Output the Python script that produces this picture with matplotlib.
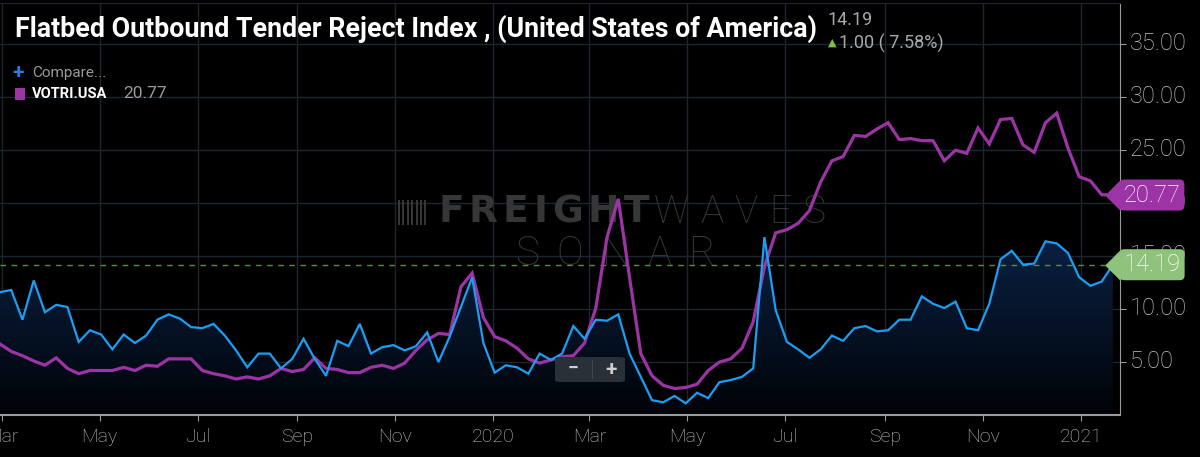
import numpy as np
import pandas as pd
import matplotlib
matplotlib.use('Agg')
import matplotlib.pyplot as plt
import matplotlib.dates as mdates
import matplotlib.transforms as mtransforms
from matplotlib.colors import LinearSegmentedColormap
from matplotlib.patches import FancyBboxPatch, Rectangle

# weekly values, first week 2019-02-28
start_date = '2019-02-28'
flatbed = [11.6, 11.8, 9.0, 12.7, 9.7, 10.4, 10.2, 6.9, 8.0, 7.6,
           6.2, 7.6, 6.8, 7.5, 9.0, 9.5, 9.1, 8.3, 8.2, 8.6,
           7.5, 6.1, 4.5, 5.8, 5.8, 4.4, 5.3, 7.2, 5.3, 3.7,
           7.0, 6.5, 8.6, 5.8, 6.4, 6.6, 6.1, 6.5, 7.8, 5.0,
           7.4, 10.2, 13.0, 6.8, 4.0, 4.7, 4.5, 3.9, 5.8, 5.2,
           5.8, 8.4, 7.2, 9.0, 8.9, 9.5, 5.8, 3.6, 1.4, 1.2,
           1.8, 1.1, 2.1, 1.6, 3.1, 3.3, 3.6, 4.4, 16.8, 9.9,
           6.9, 6.2, 5.4, 6.2, 7.5, 7.0, 8.2, 8.4, 7.9, 8.0,
           9.0, 9.0, 11.2, 10.5, 10.1, 10.7, 8.2, 8.0, 10.5, 14.7,
           15.5, 14.2, 14.3, 16.4, 16.2, 15.3, 13.0, 12.2, 12.6, 14.19]
van = [6.7, 6.0, 5.6, 5.1, 4.7, 5.4, 4.4, 3.9, 4.2, 4.2,
       4.2, 4.5, 4.2, 4.7, 4.6, 5.3, 5.3, 5.3, 4.2, 3.9,
       3.7, 3.4, 3.6, 3.4, 3.7, 4.4, 4.1, 4.3, 5.4, 4.4,
       4.3, 4.0, 4.0, 4.5, 4.7, 4.4, 4.9, 6.1, 7.1, 7.7,
       7.6, 12.1, 13.4, 9.2, 7.4, 7.0, 6.3, 5.3, 4.9, 5.2,
       5.5, 5.6, 6.8, 10.1, 16.8, 20.4, 13.0, 5.8, 3.7, 2.8,
       2.5, 2.6, 2.9, 4.2, 5.0, 5.3, 6.3, 8.8, 14.0, 17.2,
       17.5, 18.1, 19.3, 22.0, 24.0, 24.4, 26.4, 26.3, 27.0, 27.6,
       26.0, 26.1, 25.9, 25.9, 24.0, 25.0, 24.7, 27.1, 25.6, 27.9,
       28.0, 25.5, 24.8, 27.6, 28.5, 25.2, 22.5, 22.1, 20.8, 20.77]

tick_dates = ['2019-03-01', '2019-05-01', '2019-07-01', '2019-09-01', '2019-11-01', '2020-01-01',
              '2020-03-01', '2020-05-01', '2020-07-01', '2020-09-01', '2020-11-01', '2021-01-01']
tick_labels = ['Mar', 'May', 'Jul', 'Sep', 'Nov', '2020', 'Mar', 'May', 'Jul', 'Sep', 'Nov', '2021']
y_ticks = [5, 10, 15, 20, 25, 30, 35]

title = 'Flatbed Outbound Tender Reject Index , (United States of America)'
last_flatbed = 14.19
last_van = 20.77
change_text = '1.00 ( 7.58%)'
van_name = 'VOTRI.USA'

BLUE = '#1a9ff5'
PURPLE = '#9c34a6'
GREEN = '#8fc27a'
GRID = '#1b2631'
LABEL = '#c4c4c4'
MARK = '#363636'

plt.rcParams['font.family'] = ['Roboto', 'DejaVu Sans']

W, H = 1200, 457
fig = plt.figure(figsize=(W / 100, H / 100), dpi=100, facecolor='black')
ax = fig.add_axes([0, 42 / H, 1120 / W, 412 / H], facecolor='black')


def fx(px):
    return px / W


def fy(py):
    return 1 - py / H


def spread(s, left, right, yc, **kw):
    # place letters one by one so the word fills left..right (pixels)
    texts = [ax.text(0, 0, ch, transform=fig.transFigure, va='center', ha='left', **kw) for ch in s]
    renderer = fig.canvas.get_renderer()
    widths = [tx.get_window_extent(renderer).width for tx in texts]
    gap = (right - left - sum(widths)) / max(len(s) - 1, 1)
    pos = left
    for tx, w in zip(texts, widths):
        tx.set_position((fx(pos), fy(yc)))
        pos += w + gap


dates = pd.date_range(start_date, periods=len(flatbed), freq='7D')
x = mdates.date2num(dates)
x0 = mdates.date2num(pd.Timestamp(start_date))
x1 = x0 + 697.4

# gradient area under flatbed line
fill = ax.fill_between(x, flatbed, 0, color='none', lw=0)
grad = np.linspace(0, 1, 256).reshape(-1, 1)
cmap = LinearSegmentedColormap.from_list('fade', ['#010307', '#0a2143'])
im = ax.imshow(grad, extent=[x[0], x[-1], 0, max(flatbed)], origin='lower',
               aspect='auto', cmap=cmap, zorder=1)
im.set_clip_path(fill.get_paths()[0], transform=ax.transData)

ax.plot(x, van, color=PURPLE, lw=2.3, zorder=4, solid_joinstyle='miter')
ax.plot(x, flatbed, color=BLUE, lw=1.6, zorder=5, solid_joinstyle='miter')
ax.axhline(last_flatbed, color='#5e8a46', lw=1, ls=(0, (4, 4)), zorder=3)

ax.set_xlim(x0, x1)
ax.set_ylim(0, 38.9)

# axes style
ax.set_xticks(mdates.date2num(pd.to_datetime(tick_dates)))
ax.set_xticklabels(tick_labels)
ax.yaxis.tick_right()
ax.set_yticks(y_ticks)
ax.set_yticklabels([f'{v:.2f}' for v in y_ticks])
ax.tick_params(axis='x', colors='#9a9a9a', labelcolor=LABEL, labelsize=14, length=4, pad=5)
ax.tick_params(axis='y', colors='#9a9a9a', labelcolor=LABEL, labelsize=17, length=4, pad=3)
lift = mtransforms.ScaledTranslation(0, 2.5 / 72, fig.dpi_scale_trans)
for lab in ax.get_yticklabels():
    lab.set_fontweight('light')
    lab.set_transform(lab.get_transform() + lift)
for lab in ax.get_xticklabels():
    lab.set_fontweight('light')
ax.grid(True, color=GRID, lw=1)
ax.set_axisbelow(True)
ax.spines['left'].set_visible(False)
ax.spines['top'].set_color(GRID)
ax.spines['right'].set_color('#9a9a9a')
ax.spines['bottom'].set_color('#9a9a9a')
ax.spines['bottom'].set_linewidth(1.5)

# value flags on the right axis
trans = mtransforms.blended_transform_factory(ax.transAxes, ax.transData)
flag_marker = [(-1, 0), (0, 1), (0, -1)]
for val, col in [(last_van, PURPLE), (last_flatbed, GREEN)]:
    ax.plot([1.0], [val], marker=flag_marker, ms=22, color=col, mec='none',
            transform=trans, clip_on=False, zorder=10)
    ax.annotate(f'{val:.2f}', xy=(1.0, val), xycoords=trans, xytext=(2.6, 0),
                textcoords='offset points', ha='left', va='center', color='white',
                fontsize=17, fontweight='light', zorder=11, annotation_clip=False,
                bbox=dict(boxstyle='round,pad=0.17,rounding_size=0.2', fc=col, ec='none'))

# title and header
t = fig.text(fx(15), fy(29), title, color='white', fontsize=20, fontweight='bold',
             va='center', ha='left')
fig.canvas.draw()
bb = t.get_window_extent()
t.set_fontsize(20 * 800 / bb.width)

fig.text(fx(828), fy(20), f'{last_flatbed:.2f}', color='#a8a8a8', fontsize=13, va='center')
fig.text(fx(828), fy(43), '▲', color='#7cc04a', fontsize=8, va='center')
fig.text(fx(839), fy(43), change_text, color='#a8a8a8', fontsize=13, va='center')

# legend
fig.text(fx(12), fy(72), '+', color='#2a7de1', fontsize=15, fontweight='bold', va='center')
fig.text(fx(32), fy(73), 'Compare...', color='#9a9a9a', fontsize=11, va='center')
fig.patches.append(Rectangle((fx(15), fy(100)), 10 / W, 12 / H, transform=fig.transFigure,
                             fc=PURPLE, ec='none'))
fig.text(fx(32), fy(94), van_name, color='white', fontsize=10.5, fontweight='bold', va='center')
fig.text(fx(123), fy(94), f'{last_van:.2f}', color='#9a9a9a', fontsize=12.5, va='center')

# watermark, behind the lines
for i in range(7):
    ax.add_patch(Rectangle((fx(398 + i * 4.4), fy(225)), 2 / W, 25 / H, transform=fig.transFigure,
                           fc=MARK, ec='none', zorder=2))
spread('FREIGHT', 438, 650, 212.5, color=MARK, fontsize=27, fontweight='bold',
       family='DejaVu Sans', zorder=2)
spread('WAVES', 654, 825, 212.5, color=MARK, fontsize=28, fontweight='light', zorder=2)
spread('SONAR', 515, 715, 253.5, color=MARK, fontsize=29, fontweight='light', zorder=2)

# zoom buttons
fig.patches.append(FancyBboxPatch((fx(555), fy(382)), 70 / W, 25 / H, transform=fig.transFigure,
                                  boxstyle='round,pad=0,rounding_size=0.004',
                                  fc='#2a3038', ec='none', zorder=20))
fig.text(fx(573), fy(369), '−', color='#d0d0d0', fontsize=14, fontweight='bold',
         ha='center', va='center', zorder=21)
fig.text(fx(611), fy(369), '+', color='#d0d0d0', fontsize=15, fontweight='bold',
         ha='center', va='center', zorder=21)
fig.patches.append(Rectangle((fx(592), fy(379)), 1 / W, 19 / H, transform=fig.transFigure,
                             fc='#3e464f', ec='none', zorder=21))

fig.savefig('out.png', dpi=100, facecolor='black')
